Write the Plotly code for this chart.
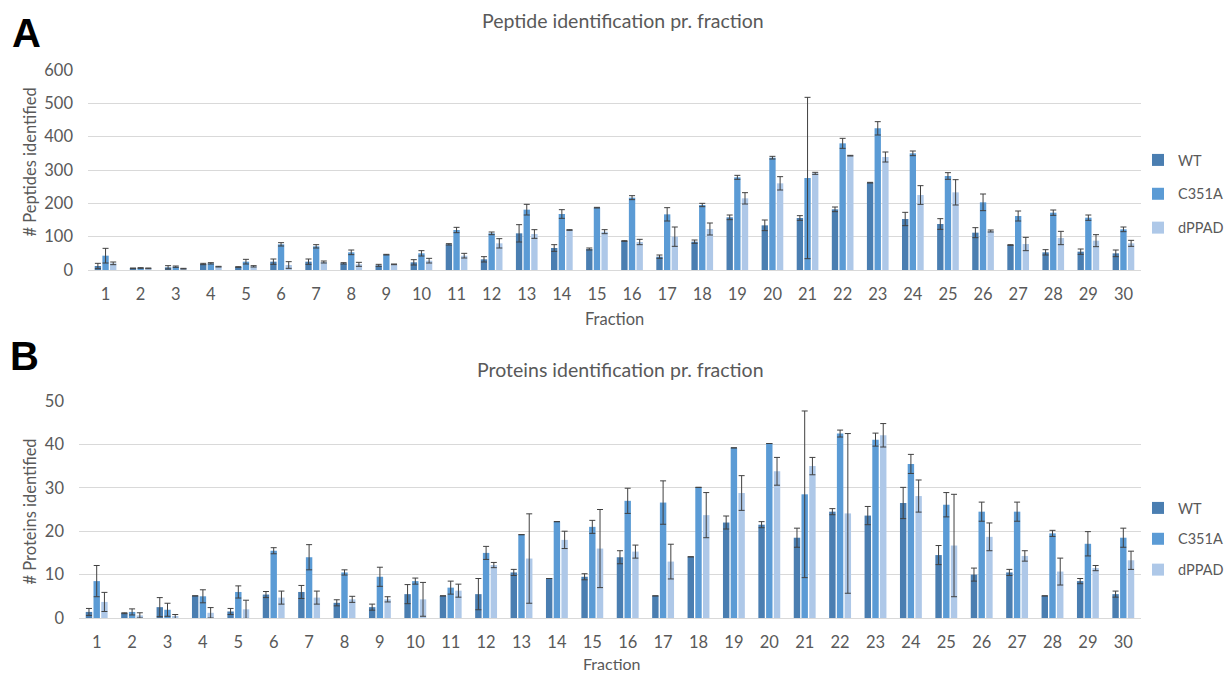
import plotly.graph_objects as go

W, H = 1227, 674

fractions = [str(i) for i in range(1, 31)]
series_names = ["WT", "C351A", "dPPAD"]
colors = ["#4A7EB1", "#5B9BD5", "#AEC8E8"]

# Panel A: peptides
pep_wt = [12, 5, 8, 18, 9, 25, 25, 20, 14, 23, 77, 32, 110, 66, 63, 87, 40, 85, 158, 134,
          156, 182, 262, 153, 138, 112, 75, 53, 55, 50]
pep_wt_err = [8, 1, 5, 2, 1, 8, 8, 2, 3, 8, 2, 8, 26, 10, 3, 1, 5, 5, 7, 16,
              7, 7, 1, 20, 16, 15, 1, 8, 8, 10]
pep_c351a = [43, 6, 10, 20, 25, 77, 71, 53, 46, 50, 120, 110, 181, 168, 187, 217, 167, 195, 278, 337,
             276, 380, 425, 350, 282, 203, 162, 172, 157, 122]
pep_c351a_err = [22, 1, 2, 2, 7, 5, 5, 7, 1, 8, 8, 4, 16, 13, 1, 6, 20, 5, 6, 4,
                 242, 15, 20, 7, 10, 25, 15, 8, 8, 7]
pep_dppad = [20, 5, 4, 10, 11, 15, 24, 17, 17, 28, 43, 80, 108, 120, 115, 84, 100, 123, 215, 260,
             290, 343, 339, 225, 233, 117, 78, 96, 88, 80]
pep_dppad_err = [4, 1, 1, 1, 2, 10, 3, 6, 1, 7, 7, 14, 13, 1, 6, 8, 29, 18, 17, 20,
                 3, 1, 15, 28, 38, 3, 20, 20, 18, 9]

# Panel B: proteins
pro_wt = [1.4, 1.1, 2.5, 5.1, 1.5, 5.4, 6.0, 3.5, 2.5, 5.5, 5.1, 5.5, 10.5, 9.1, 9.5, 14.0, 5.1, 14.1, 22.0, 21.5,
          18.5, 24.5, 23.6, 26.5, 14.5, 10.0, 10.5, 5.1, 8.5, 5.5]
pro_wt_err = [0.8, 0.1, 2.2, 0, 0.7, 0.7, 1.5, 0.7, 0.7, 2.2, 0, 3.6, 0.7, 0, 0.7, 1.5, 0, 0, 1.5, 0.7,
              2.2, 0.7, 2.1, 3.6, 2.2, 1.5, 0.7, 0, 0.6, 0.7]
pro_c351a = [8.5, 1.4, 1.9, 5.0, 6.0, 15.5, 14.0, 10.5, 9.5, 8.5, 7.0, 15.0, 19.2, 22.2, 21.0, 27.0, 26.6, 30.1, 39.2, 40.2,
             28.5, 42.5, 41.1, 35.5, 26.1, 24.5, 24.5, 19.5, 17.1, 18.5]
pro_c351a_err = [3.6, 0.7, 1.5, 1.5, 1.4, 0.7, 2.9, 0.6, 2.2, 0.7, 1.5, 1.5, 0, 0, 1.5, 2.9, 5.0, 0, 0, 0,
                 19.2, 0.8, 1.5, 2.2, 2.8, 2.2, 2.2, 0.7, 2.8, 2.2]
pro_dppad = [3.7, 0.6, 0.3, 1.2, 2.0, 4.7, 4.7, 4.3, 4.3, 4.3, 6.3, 12.2, 13.7, 18.0, 16.0, 15.3, 13.0, 23.7, 28.8, 33.8,
             35.0, 24.1, 42.1, 28.1, 16.7, 18.7, 14.3, 10.7, 11.5, 13.3]
pro_dppad_err = [2.2, 0.6, 0.5, 1.2, 2.1, 1.5, 1.5, 0.7, 0.6, 3.9, 1.5, 0.6, 10.3, 2.0, 9.0, 1.5, 4.0, 5.2, 4.0, 3.2,
                 2.0, 18.4, 2.7, 3.7, 11.8, 3.2, 1.2, 3.1, 0.6, 2.1]

pep_vals = [pep_wt, pep_c351a, pep_dppad]
pep_errs = [pep_wt_err, pep_c351a_err, pep_dppad_err]
pro_vals = [pro_wt, pro_c351a, pro_dppad]
pro_errs = [pro_wt_err, pro_c351a_err, pro_dppad_err]

FONT = "Lato"
GRAY = "#595959"
GRID = "#D9D9D9"


def px_x(v):
    return v / W


def px_y(v):
    return 1 - v / H


fig = go.Figure()

for i, name in enumerate(series_names):
    fig.add_trace(go.Bar(
        x=fractions, y=pep_vals[i], name=name, marker_color=colors[i],
        marker_line_width=0,
        error_y=dict(type="data", array=pep_errs[i], color="#404040", thickness=1, width=3),
        xaxis="x", yaxis="y", legend="legend", legendgroup="a_" + name,
    ))
for i, name in enumerate(series_names):
    fig.add_trace(go.Bar(
        x=fractions, y=pro_vals[i], name=name, marker_color=colors[i],
        marker_line_width=0,
        error_y=dict(type="data", array=pro_errs[i], color="#404040", thickness=1, width=3),
        xaxis="x2", yaxis="y2", legend="legend2", legendgroup="b_" + name,
    ))

axis_common = dict(
    showgrid=False, showline=True, linecolor=GRID, linewidth=1, ticks="",
    tickfont=dict(family=FONT, size=16.5, color=GRAY), ticklabelstandoff=9,
    type="category", automargin=False, fixedrange=True,
)
yaxis_common = dict(
    showgrid=True, gridcolor=GRID, gridwidth=1, zeroline=False, showline=False, ticks="",
    tickfont=dict(family=FONT, size=16.5, color=GRAY), ticklabelstandoff=14,
    automargin=False, fixedrange=True,
)

legend_common = dict(
    xanchor="left", yanchor="top", bgcolor="rgba(0,0,0,0)",
    font=dict(family=FONT, size=14.5, color=GRAY),
    traceorder="grouped", itemclick=False, itemdoubleclick=False,
)

fig.update_layout(
    width=W, height=H,
    margin=dict(l=0, r=0, t=0, b=0, autoexpand=False),
    paper_bgcolor="white", plot_bgcolor="white",
    barmode="group", bargap=0.345, bargroupgap=0.17,
    xaxis=dict(domain=[px_x(88), px_x(1141)], anchor="y", **axis_common),
    yaxis=dict(domain=[px_y(270), px_y(70)], anchor="x", range=[0, 600], dtick=100, **yaxis_common),
    xaxis2=dict(domain=[px_x(79), px_x(1141)], anchor="y2", **axis_common),
    yaxis2=dict(domain=[px_y(618), px_y(401)], anchor="x2", range=[0, 50], dtick=10, **yaxis_common),
    legend=dict(x=px_x(1138), y=px_y(144), tracegroupgap=12, **legend_common),
    legend2=dict(x=px_x(1138), y=px_y(492), tracegroupgap=9, **legend_common),
    showlegend=True,
)

annotations = [
    dict(text="Peptide identification pr. fraction", x=px_x(623), y=px_y(20), font=dict(size=19.5)),
    dict(text="Proteins identification pr. fraction", x=px_x(621), y=px_y(369), font=dict(size=19.5)),
    dict(text="Fraction", x=px_x(614), y=px_y(319), font=dict(size=16.5)),
    dict(text="Fraction", x=px_x(612), y=px_y(663), font=dict(size=16)),
    dict(text="# Peptides identified", x=px_x(29.5), y=px_y(162), textangle=-90, font=dict(size=16.5)),
    dict(text="# Proteins identified", x=px_x(29.5), y=px_y(512), textangle=-90, font=dict(size=16.5)),
]
anns = []
for a in annotations:
    f = dict(family=FONT, color=GRAY)
    f.update(a.pop("font"))
    anns.append(dict(xref="paper", yref="paper", showarrow=False, xanchor="center", yanchor="middle",
                     font=f, **a))
anns.append(dict(text="<b>A</b>", x=px_x(26), y=px_y(33), xref="paper", yref="paper", showarrow=False,
                 xanchor="center", yanchor="middle",
                 font=dict(family="Liberation Sans", size=40, color="black")))
anns.append(dict(text="<b>B</b>", x=px_x(24), y=px_y(356), xref="paper", yref="paper", showarrow=False,
                 xanchor="center", yanchor="middle",
                 font=dict(family="Liberation Sans", size=40, color="black")))
fig.update_layout(annotations=anns)

fig.write_html("out.html")
